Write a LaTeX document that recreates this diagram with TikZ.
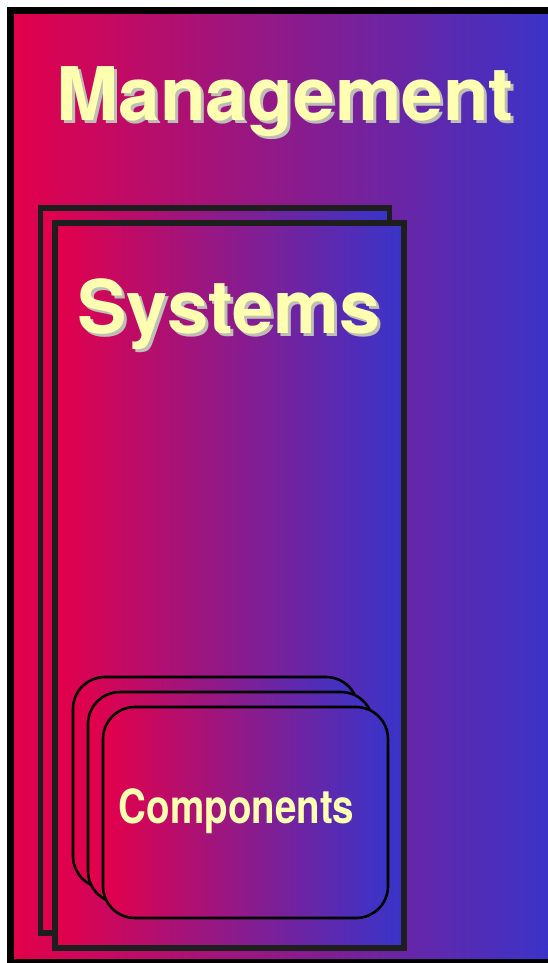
\documentclass[tikz,border=0pt]{standalone}
\usepackage{fontspec}
\setmainfont{TeX Gyre Heros}
\definecolor{gred}{RGB}{228,0,74}
\definecolor{gmid}{RGB}{168,38,160}
\definecolor{gblue}{RGB}{56,52,202}
\definecolor{txtyellow}{RGB}{255,255,178}
\definecolor{shadowgray}{RGB}{190,190,182}
\definecolor{sysline}{RGB}{30,30,30}
\tikzset{
  grad/.style={left color=gred, middle color=gmid, right color=gblue},
  sysbox/.style={grad, draw=sysline, line width=5.5pt, inner sep=0pt, outer sep=0pt, minimum width=349pt, minimum height=725pt},
  compbox/.style={grad, draw=black, line width=2.6pt, rounded corners=32pt, inner sep=0pt, outer sep=0pt, minimum width=285pt, minimum height=211pt},
  bigtxt/.style={anchor=base, inner sep=0pt, font=\fontsize{74}{80}\selectfont\bfseries},
  comptxt/.style={anchor=base, inner sep=0pt, text=txtyellow, xscale=0.82, font=\fontsize{47}{52}\selectfont\bfseries},
}
\begin{document}
\begin{tikzpicture}[x=1pt,y=-1pt]
\useasboundingbox (0,0) rectangle (548,963);
\clip (0,0) rectangle (548,963);
% outer frame
\node[grad, draw=black, line width=7pt, inner sep=0pt, outer sep=0pt, minimum width=545.5pt, minimum height=951.5pt] (outer) at (283.25,486.25) {};
\node[bigtxt, text=shadowgray, xscale=1.01] (mgmtshadow) at (288,123.5) {Management};
\node[bigtxt, text=txtyellow, xscale=1.01] (mgmt) at (285,120.5) {Management};
% systems
\node[sysbox] (sysback) at (214.75,570.5) {};
\node[sysbox] (sysfront) at (229.5,585.5) {};
\node[bigtxt, text=shadowgray] (sysshadow) at (232,336) {Systems};
\node[bigtxt, text=txtyellow] (sys) at (229,333) {Systems};
% components
\node[compbox] (compback) at (215.5,782.5) {};
\node[compbox] (compmid) at (230.5,797.5) {};
\node[compbox] (compfront) at (245.5,812.5) {};
\node[comptxt] (comp) at (236.5,823) {Components};
\end{tikzpicture}
\end{document}
